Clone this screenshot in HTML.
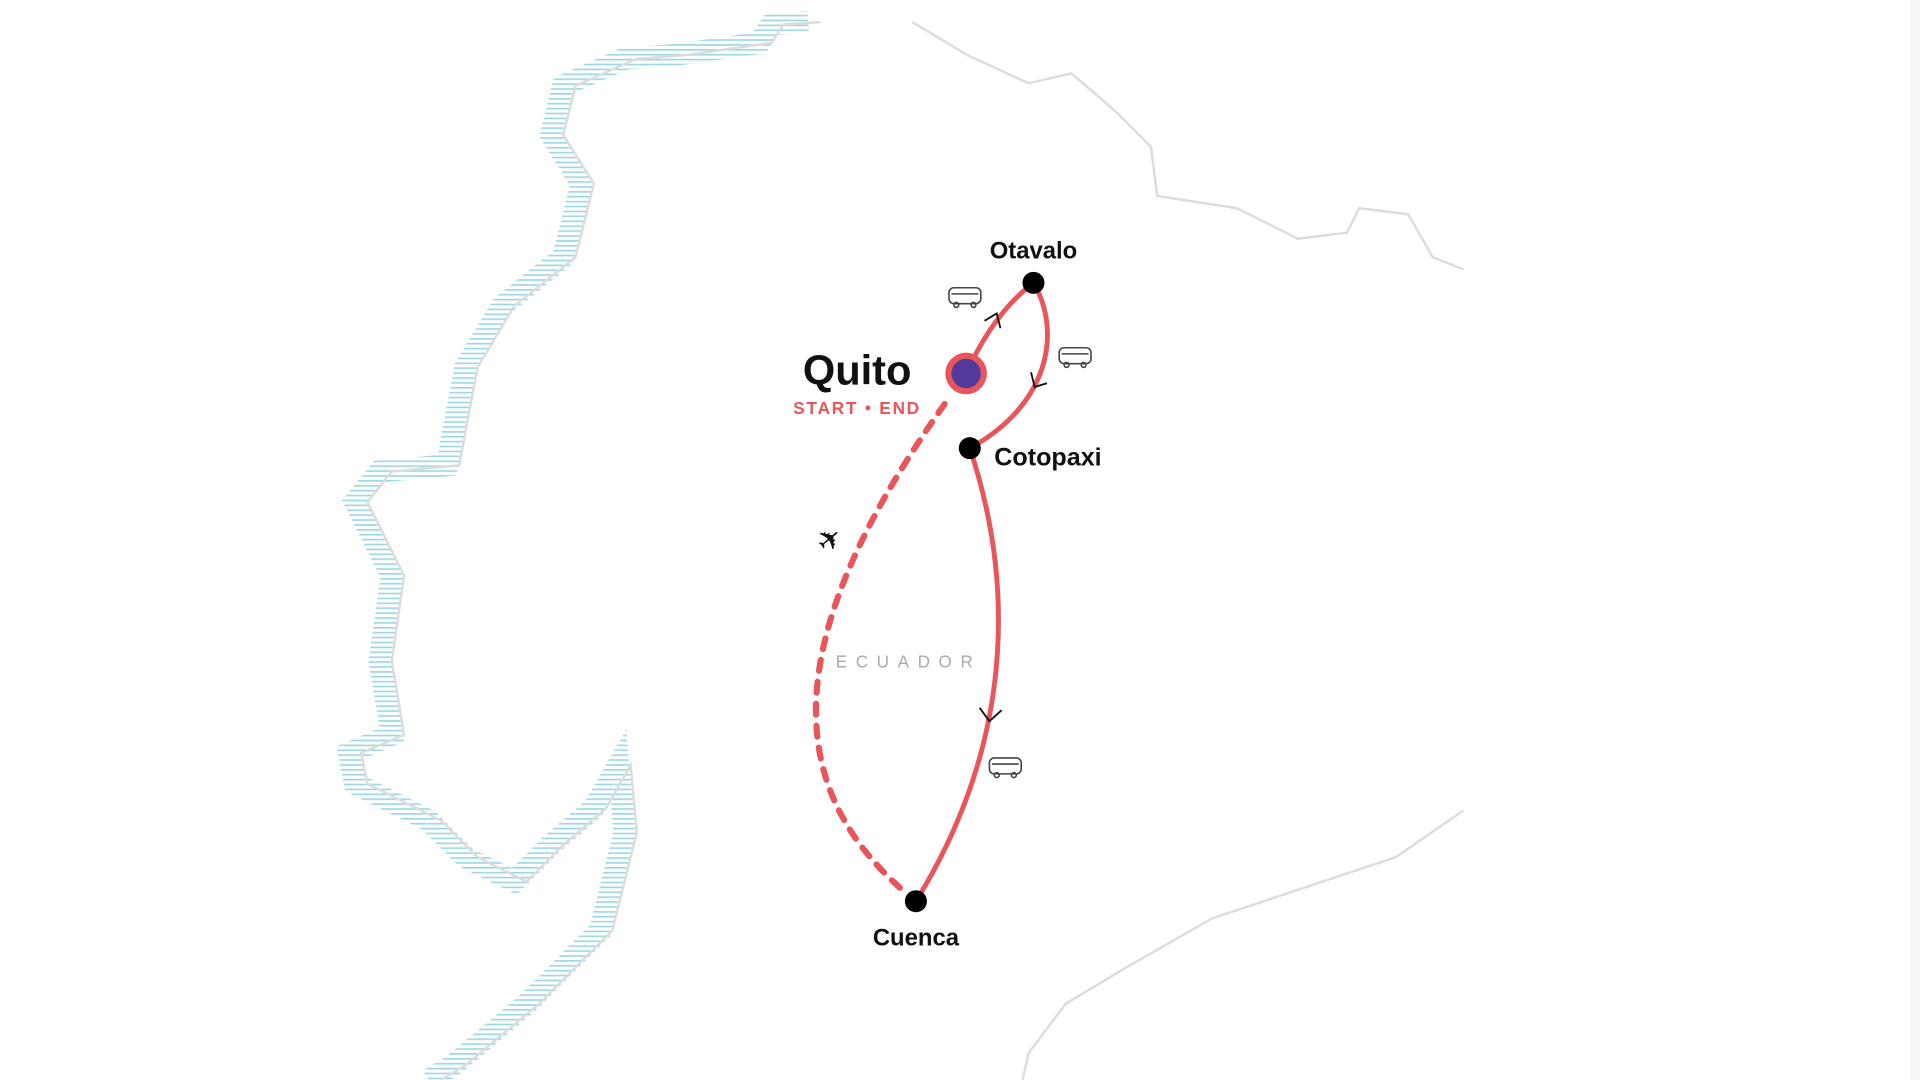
<!DOCTYPE html>
<html><head><meta charset="utf-8"><style>
html,body{margin:0;padding:0;background:#fff;}
svg{display:block;}
</style></head><body>
<svg width="1920" height="1080" viewBox="0 0 1568 882" xmlns="http://www.w3.org/2000/svg">
<defs>
<pattern id="hatch" width="8" height="4" patternUnits="userSpaceOnUse">
<rect x="0" y="0" width="8" height="1.4" fill="#9fd8e3"/>
</pattern>
</defs>
<rect width="1568" height="882" fill="#fff"/>
<rect x="1560" y="0" width="8" height="882" fill="#f7f7f7"/>
<!-- coast hatching -->
<path d="M670,18 L640,20 L630,35 L560,45 L520,48 L470,70 L460,110 L485,150 L470,210 L420,250 L390,300 L375,380 L320,385 L300,410 L330,470 L320,540 L330,600 L295,615 L300,640 L360,670 L390,700 L430,720 L460,690 L495,660 L515,625 L520,680 L500,760 L440,820 L380,870 L360,882" fill="none" stroke="url(#hatch)" stroke-width="18" transform="translate(-10,0)"/>
<path d="M670,18 L640,20 L630,35 L560,45 L520,48 L470,70 L460,110 L485,150 L470,210 L420,250 L390,300 L375,380 L320,385 L300,410 L330,470 L320,540 L330,600 L295,615 L300,640 L360,670 L390,700 L430,720 L460,690 L495,660 L515,625 L520,680 L500,760 L440,820 L380,870 L360,882" fill="none" stroke="#dcdcdc" stroke-width="2"/>
<path d="M745,18 L790,45 L840,68 L875,60 L910,90 L940,120 L945,160 L1010,170 L1060,195 L1100,190 L1110,170 L1150,175 L1170,210 L1195,220" fill="none" stroke="#dcdcdc" stroke-width="2"/>
<path d="M1195,662 L1140,700 L1080,720 L990,750 L920,790 L870,820 L840,860 L835,882" fill="none" stroke="#dcdcdc" stroke-width="2"/>
<text x="742" y="545" font-family="Liberation Sans, sans-serif" font-size="14" fill="#aaa" text-anchor="middle" letter-spacing="7">ECUADOR</text>
<!-- routes -->
<path d="M735,725 C640,640 635,520 775,325" fill="none" stroke="#e8555a" stroke-width="5" stroke-dasharray="9 9" stroke-linecap="round"/>
<path d="M789,305 Q812,255 844,231" fill="none" stroke="#e8555a" stroke-width="4"/>
<path d="M844,231 C867,270 858,330 792,366" fill="none" stroke="#e8555a" stroke-width="4"/>
<path d="M792,366 C830,480 826,610 748,736" fill="none" stroke="#e8555a" stroke-width="4"/>
<!-- arrowheads -->
<path d="M804,262 L814,256 L817,268" fill="none" stroke="#111" stroke-width="1.5"/>
<path d="M842,304 L845,316 L855,313" fill="none" stroke="#111" stroke-width="1.5"/>
<path d="M800,578 L808,589 L818,580" fill="none" stroke="#111" stroke-width="1.5"/>
<!-- nodes -->
<circle cx="789" cy="305" r="17" fill="#e8555a"/>
<circle cx="789" cy="305" r="12" fill="#533a9a"/>
<circle cx="844" cy="231" r="9" fill="#000"/>
<circle cx="792" cy="366" r="9" fill="#000"/>
<circle cx="748" cy="736" r="9" fill="#000"/>
<!-- bus icons -->
<g fill="none" stroke="#444" stroke-width="1.3">
<g transform="translate(775,235)"><rect x="0" y="0" width="26" height="13" rx="4"/><line x1="2" y1="5" x2="24" y2="5"/><circle cx="6" cy="14" r="2"/><circle cx="20" cy="14" r="2"/></g>
<g transform="translate(865,284)"><rect x="0" y="0" width="26" height="13" rx="4"/><line x1="2" y1="5" x2="24" y2="5"/><circle cx="6" cy="14" r="2"/><circle cx="20" cy="14" r="2"/></g>
<g transform="translate(808,619)"><rect x="0" y="0" width="26" height="13" rx="4"/><line x1="2" y1="5" x2="24" y2="5"/><circle cx="6" cy="14" r="2"/><circle cx="20" cy="14" r="2"/></g>
</g>
<text x="677" y="449" font-family="DejaVu Sans, sans-serif" font-size="24" fill="#111" text-anchor="middle" transform="rotate(-40 677 440)">✈</text>
<!-- labels -->
<text x="700" y="314" font-family="Liberation Sans, sans-serif" font-weight="bold" font-size="34" fill="#111" text-anchor="middle">Quito</text>
<text x="700" y="338" font-family="Liberation Sans, sans-serif" font-weight="bold" font-size="14" fill="#e8555a" text-anchor="middle" letter-spacing="1.5">START • END</text>
<text x="844" y="211" font-family="Liberation Sans, sans-serif" font-weight="bold" font-size="19.5" fill="#111" text-anchor="middle">Otavalo</text>
<text x="812" y="380" font-family="Liberation Sans, sans-serif" font-weight="bold" font-size="20.5" fill="#111">Cotopaxi</text>
<text x="748" y="772" font-family="Liberation Sans, sans-serif" font-weight="bold" font-size="19.5" fill="#111" text-anchor="middle">Cuenca</text>
</svg>
</body></html>
